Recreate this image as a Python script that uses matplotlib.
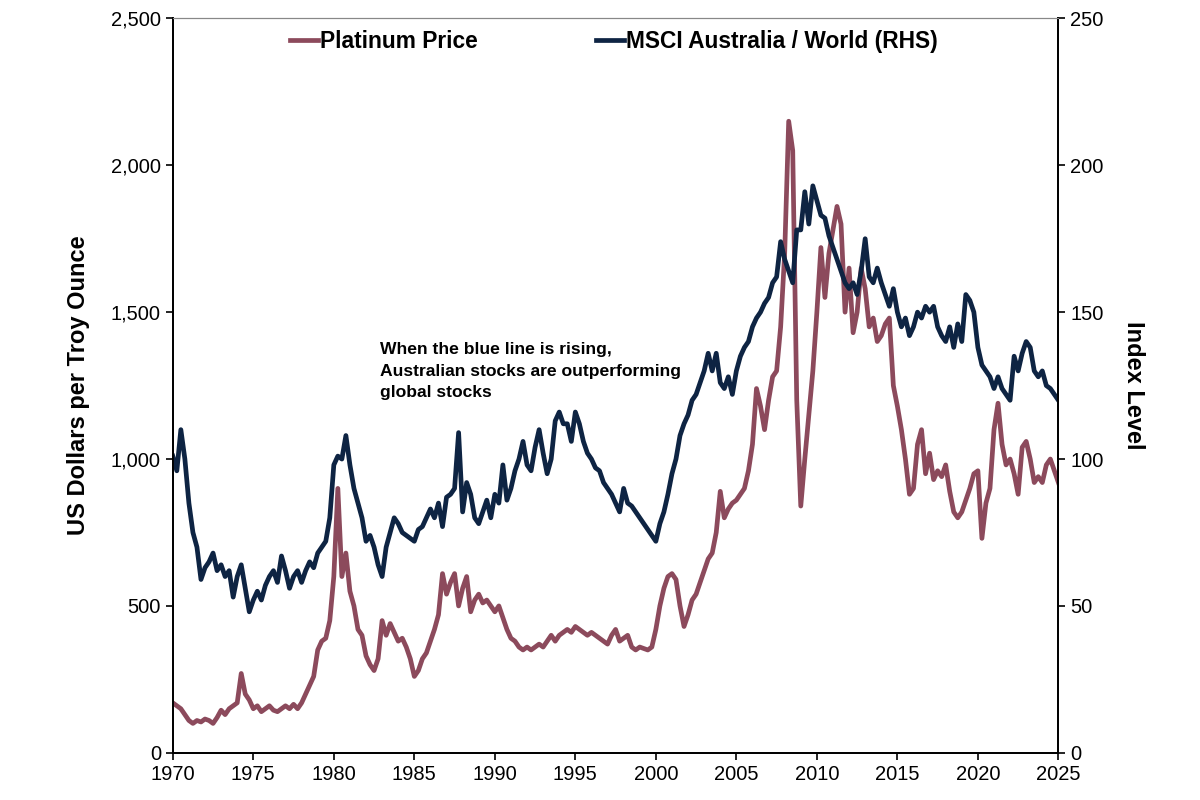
import numpy as np
import matplotlib.pyplot as plt

plt.rcParams["font.family"] = ["Liberation Sans", "DejaVu Sans"]

# quarterly points, 1970.0 .. 2025.0
years = np.arange(1970, 2025.01, 0.25)

platinum = [
    170, 160, 150, 130, 110, 100, 110, 105, 115, 110, 100, 120,
    145, 130, 150, 160, 170, 270, 200, 180, 150, 160, 140, 150,
    160, 145, 140, 150, 160, 150, 165, 150, 170, 200, 230, 260,
    350, 380, 390, 450, 600, 900, 600, 680, 550, 500, 420, 400,
    330, 300, 280, 320, 450, 400, 440, 410, 380, 390, 360, 320,
    260, 280, 320, 340, 380, 420, 470, 610, 540, 580, 610, 500,
    560, 600, 480, 520, 540, 510, 520, 500, 480, 500, 460, 420,
    390, 380, 360, 350, 360, 350, 360, 370, 360, 380, 400, 380,
    400, 410, 420, 410, 430, 420, 410, 400, 410, 400, 390, 380,
    370, 400, 420, 380, 390, 400, 360, 350, 360, 355, 350, 360,
    420, 500, 560, 600, 610, 590, 500, 430, 470, 520, 540, 580,
    620, 660, 680, 750, 890, 800, 830, 850, 860, 880, 900, 960,
    1050, 1240, 1180, 1100, 1200, 1280, 1300, 1450, 1700, 2150, 2050, 1200,
    840, 1000, 1150, 1300, 1500, 1720, 1550, 1700, 1780, 1860, 1800, 1500,
    1650, 1430, 1500, 1650, 1580, 1450, 1480, 1400, 1420, 1460, 1480, 1250,
    1180, 1100, 1000, 880, 900, 1050, 1100, 950, 1020, 930, 960, 940,
    980, 890, 820, 800, 820, 860, 900, 950, 960, 730, 850, 900,
    1100, 1190, 1050, 980, 1000, 950, 880, 1040, 1060, 1000, 920, 940,
    920, 980, 1000, 960, 920,
]

msci = [
    101, 96, 110, 100, 85, 75, 70, 59, 63, 65, 68, 62,
    64, 60, 62, 53, 60, 64, 56, 48, 52, 55, 52, 57,
    60, 62, 58, 67, 62, 56, 60, 62, 58, 62, 65, 63,
    68, 70, 72, 80, 98, 101, 100, 108, 98, 90, 85, 80,
    72, 74, 70, 64, 60, 70, 75, 80, 78, 75, 74, 73,
    72, 76, 77, 80, 83, 80, 85, 77, 87, 88, 90, 109,
    82, 92, 88, 80, 78, 82, 86, 80, 88, 85, 98, 86,
    90, 96, 100, 106, 98, 96, 104, 110, 102, 95, 100, 113,
    116, 112, 112, 106, 116, 112, 106, 102, 100, 97, 96, 92,
    90, 88, 85, 82, 90, 85, 84, 82, 80, 78, 76, 74,
    72, 78, 82, 88, 95, 100, 108, 112, 115, 120, 122, 126,
    130, 136, 130, 136, 126, 124, 128, 122, 130, 135, 138, 140,
    145, 148, 150, 153, 155, 160, 162, 174, 168, 164, 160, 178,
    178, 191, 180, 193, 188, 183, 182, 176, 172, 168, 164, 160,
    158, 160, 156, 164, 175, 162, 160, 165, 160, 156, 152, 158,
    150, 145, 148, 142, 145, 150, 148, 152, 150, 152, 145, 142,
    140, 145, 138, 146, 140, 156, 154, 150, 138, 132, 130, 128,
    124, 128, 124, 122, 120, 135, 130, 136, 140, 138, 130, 128,
    130, 125, 124, 122, 120,
]

PLAT_COLOR = "#8c4a5c"
MSCI_COLOR = "#0e2443"

fig = plt.figure(figsize=(12, 8), dpi=100)
ax = fig.add_axes([0.144, 0.059, 0.738, 0.918])
ax2 = ax.twinx()

l1, = ax.plot(years, platinum, color=PLAT_COLOR, lw=3.4, label="Platinum Price")
l2, = ax2.plot(years, msci, color=MSCI_COLOR, lw=3.4, label="MSCI Australia / World (RHS)")

ax.set_xlim(1970, 2025)
ax.set_ylim(0, 2500)
ax2.set_ylim(0, 250)
ax.set_xticks(np.arange(1970, 2026, 5))
ax.set_yticks(np.arange(0, 2501, 500))
ax2.set_yticks(np.arange(0, 251, 50))
ax.set_yticklabels([f"{v:,}" for v in range(0, 2501, 500)])

for a in (ax, ax2):
    a.tick_params(labelsize=14.5, direction="out", length=5, width=1.2)
    for s in ("left", "right", "bottom"):
        a.spines[s].set_linewidth(1.3)
        a.spines[s].set_color("black")
    a.spines["top"].set_color("#888888")
ax.tick_params(axis="x", pad=4)

ax.set_ylabel("US Dollars per Troy Ounce", fontsize=17, fontweight="bold", labelpad=15)
ax2.set_ylabel("Index Level", fontsize=17, fontweight="bold", rotation=270, labelpad=30)

ax.text(1982.87, 1398,
        "When the blue line is rising,\nAustralian stocks are outperforming\nglobal stocks",
        fontsize=12.6, fontweight="bold", va="top", linespacing=1.55)

ax.legend(handles=[l1, l2], loc="upper center", bbox_to_anchor=(0.498, 1.012), ncol=2,
          frameon=False, prop={"weight": "bold", "size": 16.4}, handlelength=1.23,
          handletextpad=0.1, columnspacing=5.2)

fig.savefig("out.png", dpi=100)
